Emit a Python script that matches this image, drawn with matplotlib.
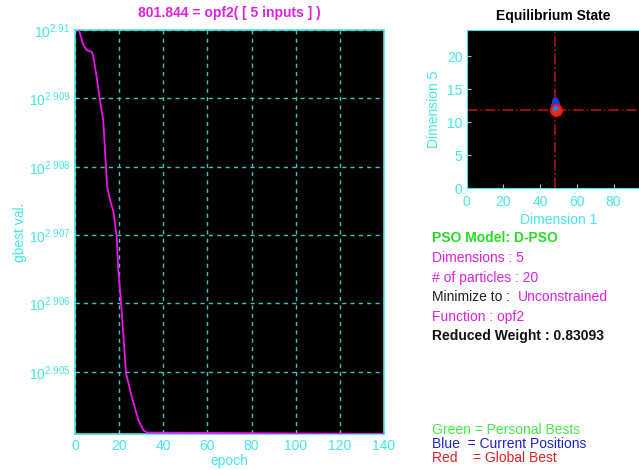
import numpy as np
import matplotlib
matplotlib.use('Agg')
import matplotlib.pyplot as plt
from matplotlib.ticker import FixedLocator, NullLocator

plt.rcParams['font.family'] = ['Liberation Sans', 'DejaVu Sans']
plt.rcParams['mathtext.fontset'] = 'custom'
plt.rcParams['mathtext.rm'] = 'Liberation Sans'

# gbest history
epochs = [1, 1.8, 3.8, 5.3, 7.6, 8.3, 9.8, 11.3, 12.8, 13.6, 14.0, 14.6, 15.9,
          17.4, 18.1, 18.9, 19.6, 20.4, 21.2, 23.1, 25.7, 28.7, 30.9, 32.5,
          125, 125.5, 140]
gbest = [813.1, 812.827, 812.416, 812.280, 812.233, 812.097, 811.549, 810.914,
         810.368, 809.551, 809.094, 808.551, 808.189, 807.871, 807.562, 807.190,
         806.285, 805.744, 805.120, 803.494, 802.855, 802.224, 801.955, 801.883,
         801.850, 801.844, 801.844]
ytick_exp = [2.905, 2.906, 2.907, 2.908, 2.909, 2.91]
ytick_lbl = ['2.905', '2.906', '2.907', '2.908', '2.909', '2.91']
xticks = [0, 20, 40, 60, 80, 100, 120, 140]

# particles (dimension 1, dimension 5)
pos_d1 = [48.0, 48.4, 47.8, 48.6, 48.2, 48.1, 47.9, 48.5, 48.3, 48.0,
          48.2, 47.7, 48.4, 48.1, 48.6, 47.9, 48.3, 48.0, 48.2, 48.5]
pos_d5 = [12.9, 13.1, 12.6, 12.8, 13.3, 12.4, 13.0, 12.7, 13.2, 12.5,
          12.9, 12.8, 12.3, 13.0, 12.6, 13.1, 12.7, 12.2, 13.4, 12.9]
gbest_pos = (48.5, 11.9)
cross_d1, cross_d5 = 48.0, 11.9

cyan = '#44e6e6'
grid_c = '#35c8b8'
mag = '#dd22dd'

fig = plt.figure(figsize=(6.39, 4.70), dpi=100)
fig.patch.set_facecolor('white')

# main convergence plot
ax = fig.add_axes([75/639, 36/470, 309/639, 404/470])
ax.set_facecolor('black')
ax.plot(epochs, gbest, color='#ee11ee', lw=1.3, zorder=3)
ax.set_yscale('log')
ax.set_xlim(0, 140)
ax.set_ylim(801.844, 10**2.91)
ax.xaxis.set_major_locator(FixedLocator(xticks))
ax.yaxis.set_major_locator(FixedLocator([10**v for v in ytick_exp]))
ax.yaxis.set_minor_locator(NullLocator())
ax.set_yticklabels([r'$\mathregular{10^{%s}}$' % s for s in ytick_lbl])
ax.grid(True, color=grid_c, ls=(0, (3, 3)), lw=1)
for s in ax.spines.values():
    s.set_color(cyan)
    s.set_linewidth(1.2)
ax.tick_params(colors=cyan, labelcolor=cyan, labelsize=10, direction='in', length=3)
ax.set_xlabel('epoch', color=cyan, fontsize=10, labelpad=1)
ax.set_ylabel('gbest val.', color=cyan, fontsize=10, labelpad=1)
ax.set_title('801.844 = opf2( [ 5 inputs ] )', color=mag, fontsize=10,
             fontweight='bold', pad=9)

# equilibrium state plot
ax2 = fig.add_axes([466.7/639, 281.7/470, 183.5/639, 158.3/470])
ax2.set_facecolor('black')
ax2.set_xlim(0, 100)
ax2.set_ylim(0, 24)
ax2.axvline(cross_d1, color='#b01010', ls='-.', lw=1.2)
ax2.axhline(cross_d5, color='#b01010', ls='-.', lw=1.2)
ax2.plot(pos_d1, pos_d5, 'o', color='#22dd22', ms=3, zorder=3)
ax2.plot(pos_d1, pos_d5, 'o', color='#2030ff', ms=3, zorder=4)
ax2.plot([gbest_pos[0]], [gbest_pos[1]], 'o', ms=8, mfc='#e04020', mec='#ff1010',
         mew=1.5, alpha=0.9, zorder=5)
ax2.plot([gbest_pos[0] - 0.6], [gbest_pos[1] + 0.3], 'o', ms=2.5, color='#2080ff', zorder=6)
ax2.set_xticks([0, 20, 40, 60, 80])
ax2.set_yticks([0, 5, 10, 15, 20])
for s in ax2.spines.values():
    s.set_color(cyan)
ax2.tick_params(colors=cyan, labelcolor=cyan, labelsize=10, direction='in', length=3)
ax2.tick_params(axis='x', pad=5)
ax2.tick_params(axis='y', pad=3)
ax2.set_xlabel('Dimension 1', color=cyan, fontsize=10, labelpad=3)
ax2.set_ylabel('Dimension 5', color=cyan, fontsize=10, labelpad=4)
fig.text(553/639, 1 - 16/470, 'Equilibrium State', color='black', fontsize=10,
         fontweight='bold', ha='center', va='center')

# info text
tx = 432/639
def line(y, s, c, bold=False, x=tx):
    fig.text(x, 1 - y/470, s, color=c, fontsize=10, va='center',
             fontweight='bold' if bold else 'normal')

line(238, 'PSO Model: D-PSO', '#22dd22', bold=True)
line(258, 'Dimensions : 5', mag)
line(278, '# of particles : 20', mag)
line(297, 'Minimize to : ', '#222222')
line(297, 'Unconstrained', mag, x=518/639)
line(317, 'Function : opf2', mag)
line(336, 'Reduced Weight : 0.83093', '#111111', bold=True)
line(430, 'Green = Personal Bests', '#44ee44')
line(444, 'Blue  = Current Positions', '#2222cc')
line(458, 'Red    = Global Best', '#dd2222')

fig.savefig('out.png', dpi=100)
